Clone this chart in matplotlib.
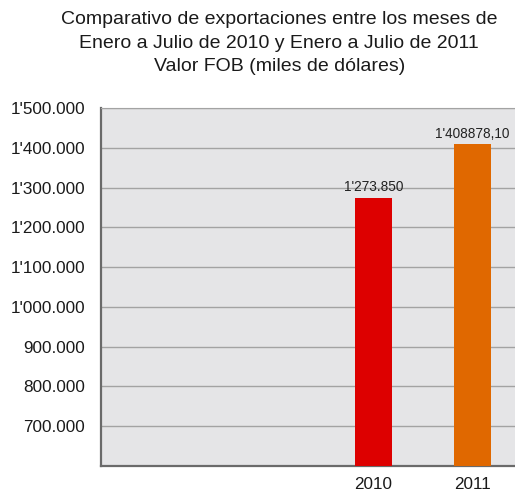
import matplotlib
matplotlib.use("Agg")
from matplotlib import pyplot as plt
from matplotlib.ticker import FuncFormatter

plt.rcParams["font.family"] = ["Liberation Sans", "DejaVu Sans"]

years = ["2010", "2011"]
exports = [1273850, 1408878.10]
value_labels = ["1'273.850", "1'408878,10"]
bar_colors = ["#dd0000", "#e06800"]
ytick_values = [700000, 800000, 900000, 1000000, 1100000, 1200000, 1300000, 1400000, 1500000]


def miles(v, pos=None):
    v = int(round(v))
    if v >= 1000000:
        return "%d'%03d.%03d" % (v // 1000000, (v // 1000) % 1000, v % 1000)
    return "%d.%03d" % (v // 1000, v % 1000)


fig = plt.figure(figsize=(5.15, 4.94), dpi=100)
ax = fig.add_axes([0.196, 0.0567, 0.81, 0.7247])
ax.set_facecolor("#e5e5e7")

x = [0, 1]
ax.bar(x, exports, width=0.38, color=bar_colors, zorder=3)
for xi, val, lab in zip(x, exports, value_labels):
    ax.text(xi, val + 9000, lab, ha="center", va="bottom", fontsize=9.8, color="#222222", zorder=4)

ax.set_ylim(600000, 1500000)
ax.set_xlim(-2.75, 1.46)
ax.set_yticks(ytick_values)
ax.yaxis.set_major_formatter(FuncFormatter(miles))
ax.set_xticks(x)
ax.set_xticklabels(years)
ax.tick_params(axis="y", length=0, pad=11.5, labelsize=12.3, labelcolor="#1a1a1a")
ax.tick_params(axis="x", length=0, pad=8, labelsize=12.3, labelcolor="#1a1a1a")
ax.grid(axis="y", color="#a3a3a3", linewidth=1, zorder=1)

for side in ["left", "bottom"]:
    ax.spines[side].set_color("#6a6a6a")
    ax.spines[side].set_linewidth(1.6)
ax.spines["top"].set_color("#a3a3a3")
ax.spines["right"].set_visible(False)

fig.text(0.542, 0.978, "Comparativo de exportaciones entre los meses de\n"
         "Enero a Julio de 2010 y Enero a Julio de 2011\n"
         "Valor FOB (miles de dólares)",
         ha="center", va="top", fontsize=14, color="#1a1a1a", linespacing=1.52)

fig.savefig("out.png", dpi=100)
